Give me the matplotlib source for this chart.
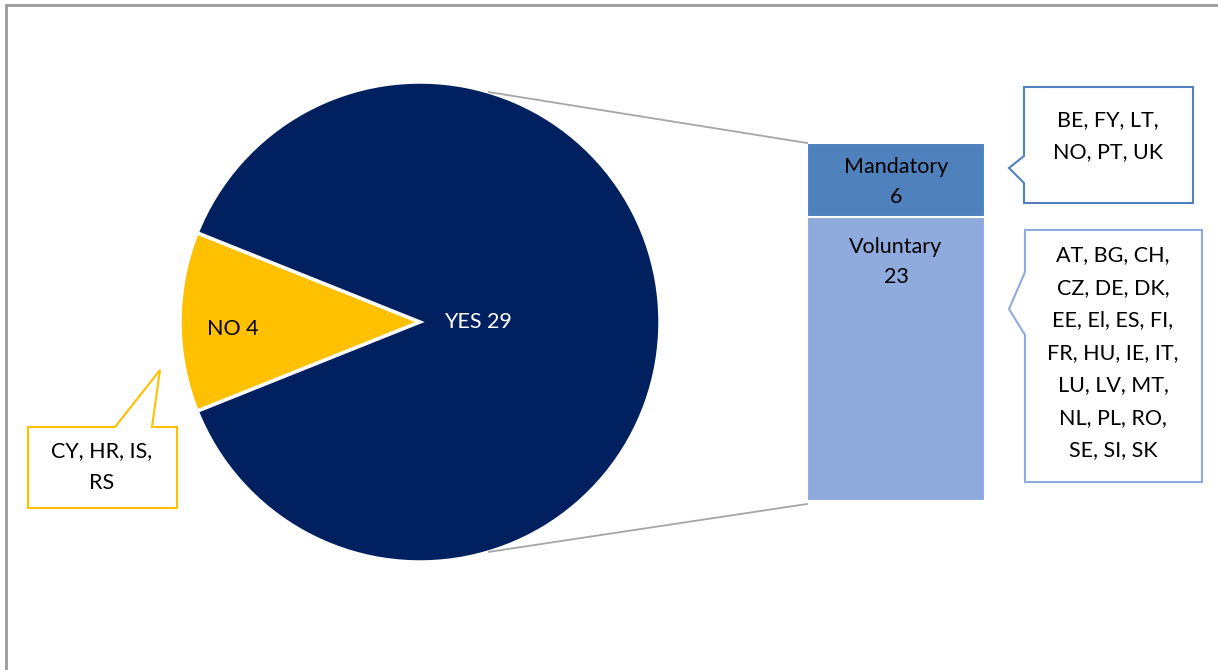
import matplotlib.pyplot as plt
from matplotlib.patches import Polygon, Rectangle
import numpy as np

plt.rcParams['font.family'] = ['Lato', 'DejaVu Sans']

# answers and counts
answers = ['NO', 'YES']
counts = [4, 29]
pie_colors = ['#FFC000', '#002060']

# split of the YES answers
kinds = ['Voluntary', 'Mandatory']
kind_counts = [23, 6]
bar_colors = ['#8FAADC', '#4F81BD']

no_countries = 'CY, HR, IS,\nRS'
mandatory_countries = 'BE, FY, LT,\nNO, PT, UK'
voluntary_countries = ('AT, BG, CH,\nCZ, DE, DK,\nEE, El, ES, FI,\nFR, HU, IE, IT,\n'
                       'LU, LV, MT,\nNL, PL, RO,\nSE, SI, SK')

W, H = 1218, 670
FS = 15.5

fig = plt.figure(figsize=(W / 100, H / 100), dpi=100)
ax = fig.add_axes([0, 0, 1, 1])

# pie, with the NO slice centred on the left
cx, cy, R = 420, H - 322, 240
start = 180 - counts[0] / sum(counts) * 180
wedges, _ = ax.pie(counts, colors=pie_colors, startangle=start, center=(cx, cy),
                   radius=R, wedgeprops=dict(edgecolor='white', linewidth=2.5))
ax.set_xlim(0, W)
ax.set_ylim(0, H)
ax.set_aspect('equal')
ax.axis('off')

label_dist = [0.78, 0.24]
label_col = ['black', 'white']
for w, name, n, d, c in zip(wedges, answers, counts, label_dist, label_col):
    mid = np.deg2rad((w.theta1 + w.theta2) / 2)
    ax.text(cx + d * R * np.cos(mid), cy + d * R * np.sin(mid) - (7 if name == 'NO' else 0),
            f'{name} {n}', color=c, fontsize=FS, ha='center', va='center')

# stacked bar for the YES split
bar_x, bar_w = 896, 178
scale = 358 / sum(kind_counts)
base = H - 501
heights = [c * scale for c in kind_counts]
bottoms = [base, base + heights[0]]
bars = ax.bar([bar_x] * 2, heights, bottom=bottoms, width=bar_w, color=bar_colors,
              edgecolor='white', linewidth=1.5)

top_v = bottoms[0] + heights[0]
ax.text(bar_x, top_v - 45, f'{kinds[0]}\n{kind_counts[0]}', ha='center', va='center',
        fontsize=FS, linespacing=1.63)
ax.text(bar_x, bottoms[1] + heights[1] / 2 - 2, f'{kinds[1]}\n{kind_counts[1]}',
        ha='center', va='center', fontsize=FS, linespacing=1.63)

# connector lines from the pie to the bar
ang = np.deg2rad(73.3)
bar_left = bar_x - bar_w / 2
top_bar = bottoms[1] + heights[1]
ax.plot([cx + R * np.cos(ang), bar_left], [cy + R * np.sin(ang), top_bar],
        color='#A6A6A6', lw=1.3)
ax.plot([cx + R * np.cos(ang), bar_left], [cy - R * np.sin(ang), base - 3],
        color='#A6A6A6', lw=1.3)


def callout(pts, color):
    ax.add_patch(Polygon([(x, H - y) for x, y in pts], closed=True, facecolor='white',
                         edgecolor=color, lw=1.5))


callout([(1024, 87), (1193, 87), (1193, 203), (1024, 203), (1024, 183), (1009, 168),
         (1024, 156)], '#4F81BD')
ax.text(1108, H - 136, mandatory_countries, ha='center', va='center', fontsize=FS,
        linespacing=1.78)

callout([(1025, 230), (1202, 230), (1202, 482), (1025, 482), (1025, 335), (1009, 309),
         (1025, 272)], '#8FAADC')
ax.text(1113, H - 353, voluntary_countries, ha='center', va='center', fontsize=FS,
        linespacing=1.78)

callout([(28, 427), (115, 427), (160, 370), (152, 427), (177, 427), (177, 508),
         (28, 508)], '#FFC000')
ax.text(102, H - 467, no_countries, ha='center', va='center', fontsize=FS, linespacing=1.78)

# outer frame
ax.add_patch(Rectangle((5.5, -20), W + 20, H - 4.5 + 20, fill=False,
                       edgecolor='#9A9A9A', lw=2, clip_on=False))

fig.savefig('out.png', dpi=100)
